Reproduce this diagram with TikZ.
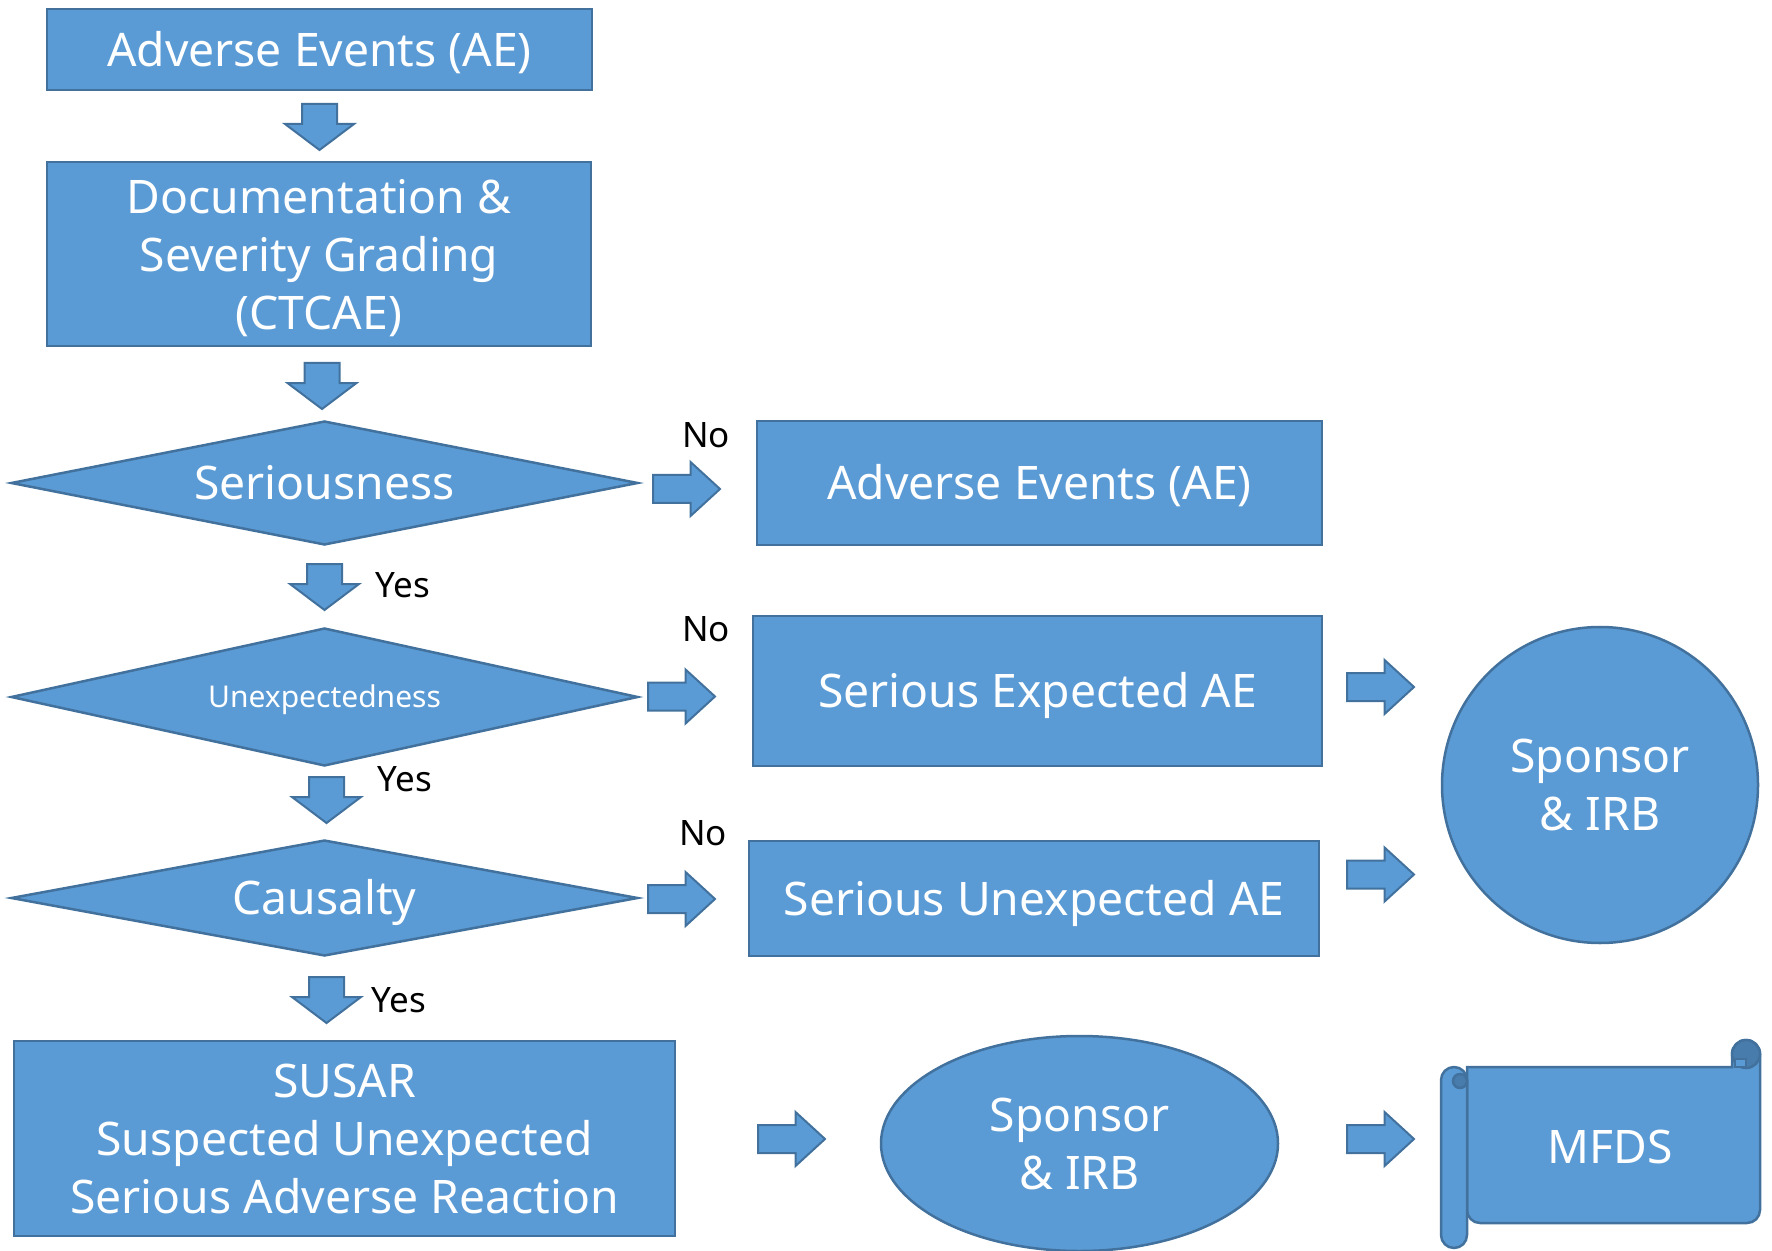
\documentclass[tikz,border=0pt]{standalone}
\usepackage{fontspec}
\setmainfont{Noto Sans}
\usetikzlibrary{positioning,shapes.geometric,shapes.arrows}
\definecolor{aeblue}{RGB}{91,155,213}
\definecolor{aeedge}{RGB}{65,113,156}
\definecolor{aedark}{RGB}{72,124,172}

\begin{document}
\begin{tikzpicture}[
    x=0.4pt, y=-0.4pt,
    font=\fontsize{18.5}{23.2}\selectfont,
    box/.style={draw=aeedge, fill=aeblue, line width=1pt, text=white, align=center, inner sep=0pt},
    one/.style={text height=13.3pt, text depth=0pt},
    dec/.style={box, one, diamond, aspect=5, minimum width=250.8pt},
    rarrow/.style={single arrow, draw=aeedge, fill=aeblue, line width=0.8pt, anchor=tail,
        inner xsep=0pt, inner ysep=5.2pt, minimum height=26.8pt,
        single arrow head extend=5.2pt, single arrow tip angle=85},
    darrow/.style={rarrow, rotate=-90, minimum height=18.4pt, inner ysep=6.6pt,
        single arrow head extend=6.8pt, single arrow tip angle=106},
    lbl/.style={font=\fontsize{14}{16}\selectfont, text=black},
    scroll/.style={draw=aeedge, fill=aeblue, line width=1pt},
    curl/.style={draw=aeedge, fill=aedark, line width=1pt},
]
\useasboundingbox (0,0) rectangle (1772,1251);

% ---- Left column: decisions ---------------------------------------
\node[box, one, minimum width=218pt, minimum height=32.4pt] (ae) at (319.5,49.5) {Adverse Events (AE)};
\node[box, text depth=0pt, minimum width=217.6pt, minimum height=73.6pt] (doc) at (319,254)
    {Documentation \&\\Severity Grading\\(CTCAE)};
\node[dec, minimum height=49.6pt] (ser) at (324.5,483) {Seriousness};
\node[dec, minimum height=55.2pt, font=\fontsize{12}{14}\selectfont, text height=8.6pt] (unexp) at (324.5,697) {Unexpectedness};
\node[dec, minimum height=46.4pt] (caus) at (324.5,898) {Causalty};
\node[box, minimum width=264.4pt, minimum height=78pt] (susar) at (344.5,1138.5)
    {SUSAR\\Suspected Unexpected\\Serious Adverse Reaction};

% ---- Middle column: outcomes --------------------------------------
\node[box, one, minimum width=226pt, minimum height=49.6pt] (aeno) at (1039.5,483) {Adverse Events (AE)};
\node[box, one, minimum width=227.6pt, minimum height=60pt] (sexp) at (1037.5,691) {Serious Expected AE};
\node[box, one, minimum width=228pt, minimum height=46pt] (sunexp) at (1034,898.5) {Serious Unexpected AE};
\node[box, ellipse, minimum width=158.8pt, minimum height=86pt] (irbs) at (1079.5,1143.5) {Sponsor\\\& IRB};

% ---- Right column: reporting --------------------------------------
\node[box, circle, minimum size=126.4pt] (irb) at (1600,785) {Sponsor\\\& IRB};

% scroll for MFDS
\filldraw[scroll] (1467,1067) -- (1732,1067) -- (1732,1054)
    arc[start angle=180, end angle=0, radius=5.6pt]
    [rounded corners=5.2pt] -- (1760,1223) -- (1467,1223) [sharp corners] -- cycle;
\filldraw[curl] (1746,1054) circle[radius=5.6pt];
\filldraw[scroll, line width=0.6pt] (1735,1059) rectangle (1746,1067);
\filldraw[scroll, rounded corners=5.2pt] (1441,1067) rectangle (1467,1248);
\filldraw[curl] (1460,1081) circle[radius=2.8pt];
\node[one, text=white] (mfds) at (1610,1147) {MFDS};

% ---- Block arrows --------------------------------------------------
\node[darrow] (d1) at (319.5,103) {};
\node[darrow] (d2) at (322,362) {};
\node[darrow] (d3) at (324.5,563) {};
\node[darrow] (d4) at (326.5,776) {};
\node[darrow] (d5) at (326.5,976) {};

\node[rarrow] (r1) at (652,489) {};
\node[rarrow] (r2) at (647,696.5) {};
\node[rarrow] (r3) at (647,899) {};
\node[rarrow] (r4) at (1346,687) {};
\node[rarrow] (r5) at (1346,874.5) {};
\node[rarrow] (r6) at (757,1139) {};
\node[rarrow] (r7) at (1346,1139) {};

% ---- Yes / No labels -----------------------------------------------
\node[lbl] (no1) at (706,435) {No};
\node[lbl] (no2) at (706,629) {No};
\node[lbl] (no3) at (703,833) {No};
\node[lbl] (yes1) at (403,585) {Yes};
\node[lbl] (yes2) at (405,779) {Yes};
\node[lbl] (yes3) at (399,1000) {Yes};

\end{tikzpicture}
\end{document}
